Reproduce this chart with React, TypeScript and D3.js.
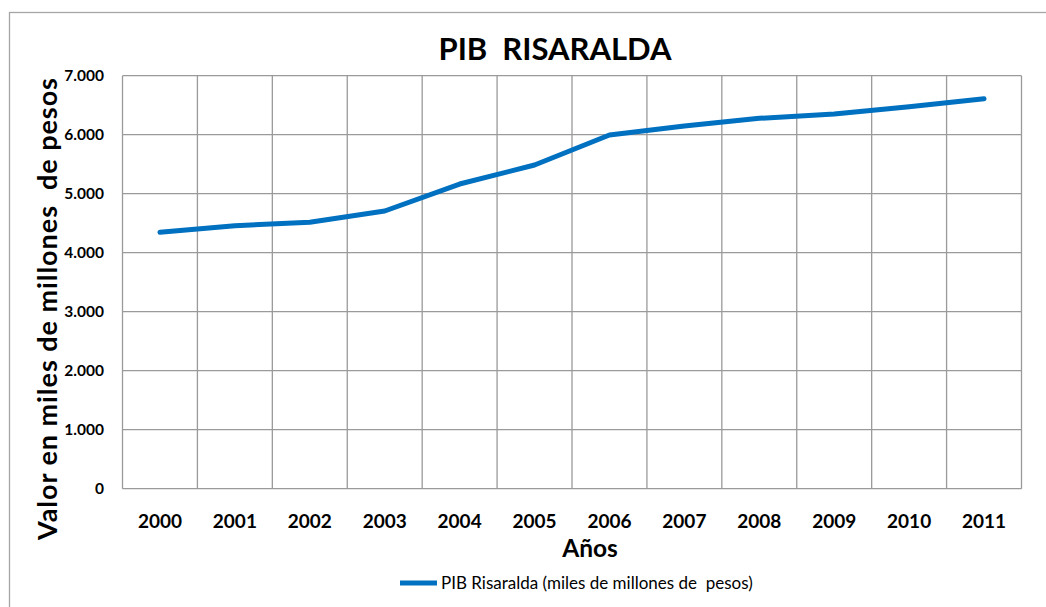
import React from "react";
import * as d3 from "d3";

const years = ["2000","2001","2002","2003","2004","2005","2006","2007","2008","2009","2010","2011"];
const pib = [4346, 4458, 4515, 4707, 5164, 5486, 5995, 6147, 6278, 6351, 6475, 6610];
const yTicks = [0, 1000, 2000, 3000, 4000, 5000, 6000, 7000];

const W = 1046, H = 607;
const L = 122.5, R = 1021.5, T = 75.7, B = 488.7;
const font = "Lato, 'Open Sans', sans-serif";

export default function App() {
  const x = d3.scaleBand<string>().domain(years).range([L, R]);
  const y = d3.scaleLinear().domain([0, 7000]).range([B, T]);
  const fmt = (v: number) => (v === 0 ? "0" : d3.format(",")(v).replace(/,/g, "."));
  const line = d3.line<number>()
    .x((_, i) => (x(years[i]) as number) + x.bandwidth() / 2)
    .y(d => y(d));
  const bounds = years.map(yr => x(yr) as number).concat([R]);
  return (
    <svg width={W} height={H} style={{ position: "absolute", left: 0, top: 0 }}>
      <rect x={0} y={0} width={W} height={H} fill="#fff" />
      <rect x={9.5} y={12.5} width={1100} height={700} fill="#fff" stroke="#a6a6a6" strokeWidth={1.3} />
      <text x={555} y={60} textAnchor="middle" fontFamily={font} fontWeight="bold" fontSize={31} fill="#000" style={{ whiteSpace: "pre" }}>PIB  RISARALDA</text>
      {yTicks.map(t => (
        <line key={"h" + t} x1={L} x2={R} y1={y(t)} y2={y(t)} stroke="#9a9a9a" strokeWidth={1.3} />
      ))}
      {bounds.map((bx, i) => (
        <line key={"v" + i} x1={bx} x2={bx} y1={T} y2={B} stroke="#9a9a9a" strokeWidth={1.3} />
      ))}
      {yTicks.map(t => (
        <text key={"yt" + t} x={104} y={y(t) + 5.5} textAnchor="end" fontFamily={font} fontWeight="bold" fontSize={15.5} fill="#000">{fmt(t)}</text>
      ))}
      {years.map(yr => (
        <text key={"xt" + yr} x={(x(yr) as number) + x.bandwidth() / 2} y={528} textAnchor="middle" fontFamily={font} fontWeight="bold" fontSize={19} fill="#000">{yr}</text>
      ))}
      <text x={590} y={557} textAnchor="middle" fontFamily={font} fontWeight="bold" fontSize={24.5} fill="#000">Años</text>
      <text transform="translate(57,309) rotate(-90)" textAnchor="middle" fontFamily={font} fontWeight="bold" fontSize={27} fill="#000" textLength={462} lengthAdjust="spacing" style={{ whiteSpace: "pre" }}>Valor en miles de millones  de pesos</text>
      <path d={line(pib) || ""} fill="none" stroke="#0070c0" strokeWidth={5} strokeLinecap="round" strokeLinejoin="round" />
      <line x1={400} x2={437} y1={583} y2={583} stroke="#0070c0" strokeWidth={5} />
      <text x={441} y={589} fontFamily={font} fontSize={17} fill="#000" style={{ whiteSpace: "pre" }}>PIB Risaralda (miles de millones de  pesos)</text>
    </svg>
  );
}
